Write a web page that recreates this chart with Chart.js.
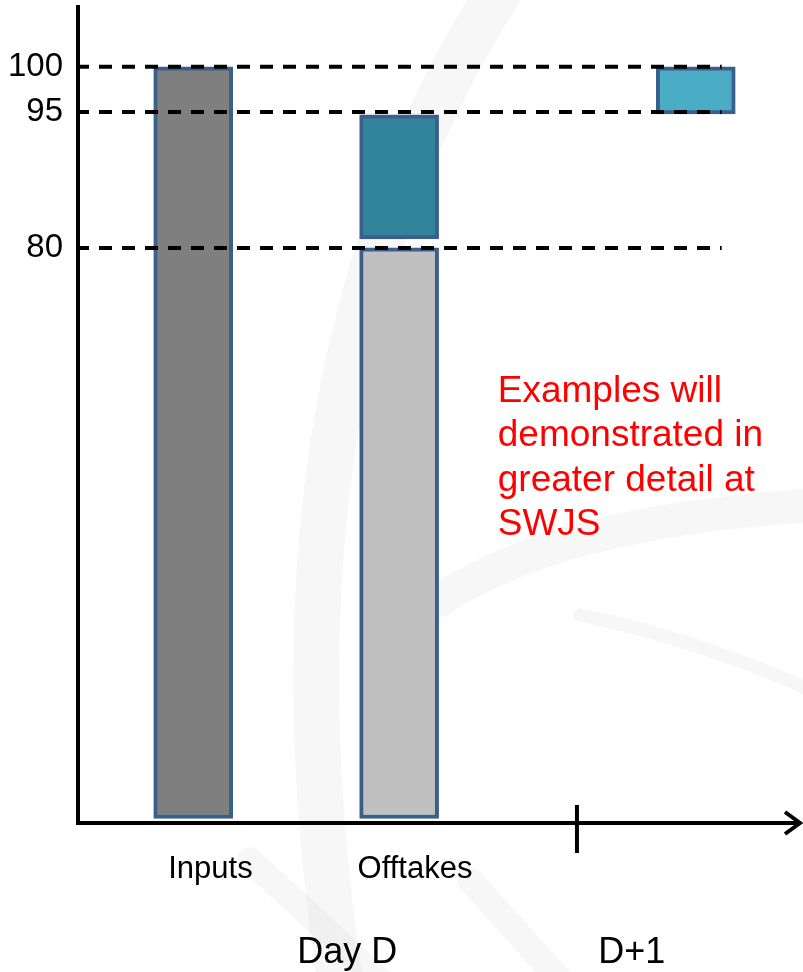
<!DOCTYPE html>
<html>
<head>
<meta charset="utf-8">
<script src="https://cdn.jsdelivr.net/npm/chart.js@4.4.0/dist/chart.umd.min.js"></script>
<style>
  html, body { margin: 0; padding: 0; background: #fff; }
  #wrap { width: 803px; height: 972px; }
</style>
</head>
<body>
<div id="wrap"><canvas id="chart" width="803" height="972"></canvas></div>
<script>
// floating bars: where they sit on the x axis, their bottom and top values
const barNames = ['Inputs', 'Offtakes', 'Offtakes (upper)', 'D+1'];
const barX = [16, 44.6, 44.6, 85.8];
const barLow = [17, 17, 81, 94.8];
const barHigh = [100, 80, 94.7, 100];

// dashed reference levels (also the only y ticks)
const refLevels = [100, 95, 80];
const refEnd = 89.4;

const catLabels = ['Inputs', 'Offtakes'];
const dayLabels = ['Day D', 'D+1'];
const dayBoundary = 69.3;
const note = ['Examples will', 'demonstrated in', 'greater detail at', 'SWJS'];

const FONT = 'Arial, "Liberation Sans", sans-serif';
const barColors = ['#7f7f7f', '#c0c0c0', '#31849b', '#4bacc6'];
const catLabelX = [18.4, 46.8];
const dayLabelX = [37.4, 76.9];

// faint swirl in the slide background
const watermark = {
    id: 'watermark',
    beforeDraw(chart) {
        const ctx = chart.ctx;
        ctx.save();
        ctx.strokeStyle = 'rgba(0, 0, 0, 0.03)';
        ctx.lineCap = 'round';
        ctx.lineWidth = 46;
        ctx.beginPath();
        ctx.moveTo(500, -10);
        ctx.quadraticCurveTo(250, 380, 340, 980);
        ctx.stroke();
        ctx.lineWidth = 34;
        ctx.beginPath();
        ctx.moveTo(820, 505);
        ctx.quadraticCurveTo(560, 520, 440, 600);
        ctx.stroke();
        ctx.lineWidth = 14;
        ctx.beginPath();
        ctx.moveTo(580, 615);
        ctx.quadraticCurveTo(700, 640, 810, 690);
        ctx.stroke();
        ctx.lineWidth = 26;
        ctx.beginPath();
        ctx.moveTo(250, 860);
        ctx.lineTo(380, 980);
        ctx.moveTo(470, 880);
        ctx.lineTo(560, 980);
        ctx.stroke();
        ctx.restore();
    }
};

const decorations = {
    id: 'decorations',
    afterDraw(chart) {
        const { ctx, chartArea, scales: { x, y } } = chart;
        const ay = chartArea.bottom;
        ctx.save();
        ctx.strokeStyle = '#000';
        ctx.lineWidth = 4;

        // arrow head on the x axis
        const tip = chartArea.right + 2;
        ctx.beginPath();
        ctx.moveTo(tip - 15, ay - 11);
        ctx.lineTo(tip, ay);
        ctx.lineTo(tip - 15, ay + 11);
        ctx.stroke();

        // day boundary tick
        const bx = x.getPixelForValue(dayBoundary);
        ctx.beginPath();
        ctx.moveTo(bx, ay - 18);
        ctx.lineTo(bx, ay + 30);
        ctx.stroke();

        ctx.fillStyle = '#000';
        ctx.textAlign = 'center';
        ctx.textBaseline = 'alphabetic';
        ctx.font = '31px ' + FONT;
        catLabels.forEach((t, i) => ctx.fillText(t, x.getPixelForValue(catLabelX[i]), ay + 55));
        ctx.font = '36px ' + FONT;
        dayLabels.forEach((t, i) => ctx.fillText(t, x.getPixelForValue(dayLabelX[i]), ay + 140));

        ctx.fillStyle = '#ff0000';
        ctx.textAlign = 'left';
        ctx.font = '37px ' + FONT;
        const nx = x.getPixelForValue(58.3);
        const ny = y.getPixelForValue(63);
        note.forEach((t, i) => ctx.fillText(t, nx, ny + i * 44.5));
        ctx.restore();
    }
};

const refDatasets = refLevels.map(v => ({
    type: 'line',
    label: String(v),
    data: [{ x: 0, y: v }, { x: refEnd, y: v }],
    borderColor: '#000',
    borderWidth: 4,
    borderDash: [13, 10],
    borderDashOffset: 2,
    pointRadius: 0,
    order: 0
}));

new Chart(document.getElementById('chart'), {
    type: 'bar',
    data: {
        datasets: [{
            label: 'Volumes',
            data: barX.map((bx, i) => ({ x: bx, y: [barLow[i], barHigh[i]] })),
            backgroundColor: barColors,
            borderColor: '#3a5f8b',
            borderWidth: 4,
            borderSkipped: false,
            barThickness: 79,
            order: 1
        }, ...refDatasets]
    },
    options: {
        responsive: false,
        animation: false,
        layout: { padding: { top: 7, right: 5, bottom: 149, left: 0 } },
        plugins: {
            legend: { display: false },
            tooltip: { enabled: false }
        },
        scales: {
            x: {
                type: 'linear',
                offset: false,
                min: 0,
                max: 100,
                grid: { display: false, drawTicks: false },
                ticks: { display: false },
                border: { display: true, color: '#000', width: 4 },
                afterFit: (s) => { s.height = 0; }
            },
            y: {
                min: 16.5,
                max: 106.6,
                grid: { display: false, drawTicks: false },
                border: { display: true, color: '#000', width: 4 },
                afterBuildTicks: (s) => { s.ticks = refLevels.map(v => ({ value: v })); },
                ticks: {
                    color: '#000',
                    padding: 15,
                    font: { size: 33, family: FONT }
                },
                afterFit: (s) => {
                    s.width = 78;
                    s.paddingTop = 0;
                    s.paddingBottom = 0;
                }
            }
        }
    },
    plugins: [watermark, decorations]
});
</script>
</body>
</html>
